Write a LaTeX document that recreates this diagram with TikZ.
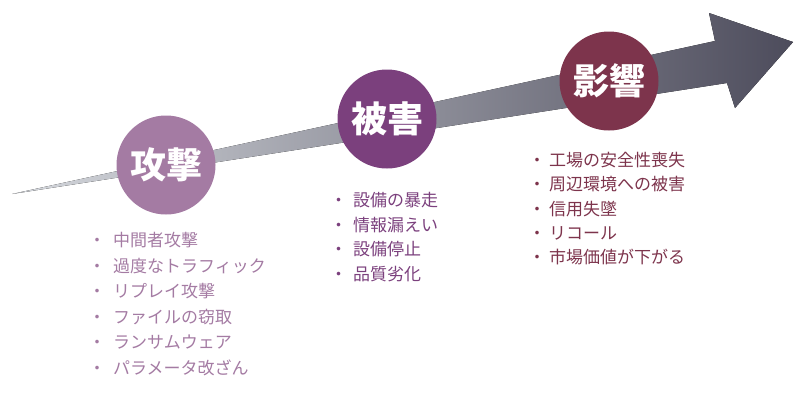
\documentclass[tikz,border=0pt]{standalone}
\usepackage{fontspec}
\newfontfamily\jp{Noto Sans CJK JP}
\definecolor{atkcol}{HTML}{A47BA3}
\definecolor{dmgcol}{HTML}{7B407D}
\definecolor{impcol}{HTML}{7D344C}
\definecolor{arrowlight}{HTML}{D5D8DD}
\definecolor{arrowdark}{HTML}{4D4C5C}

\begin{document}
\begin{tikzpicture}[x=1pt, y=-1pt,
    stage/.style = {circle, minimum size=99pt, inner sep=0pt, text=white,
      font=\jp\bfseries\fontsize{36}{36}\selectfont},
    item/.style = {anchor=west, inner sep=0pt,
      font=\jp\fontsize{17}{17}\selectfont}]
    \useasboundingbox (0,0) rectangle (800,400);

    % Arrow
    \fill[left color=arrowlight, right color=arrowdark]
      (12,194) -- (715,41) -- (709,13) -- (793,42) -- (735,108) -- (727,83) -- cycle;

    % Stages
    \node[stage, fill=atkcol] (attack) at (166,165) {攻撃};
    \node[stage, fill=dmgcol] (damage) at (387,119) {被害};
    \node[stage, fill=impcol] (impact) at (609,81) {影響};

    % Lists
    \foreach \t [count=\i from 0] in {中間者攻撃, 過度なトラフィック, リプレイ攻撃,
        ファイルの窃取, ランサムウェア, パラメータ改ざん}
      \node[item, text=atkcol] (atk\i) at (88.5, 240+25.6*\i) {\makebox[24.5pt][l]{・}\t};

    \foreach \t [count=\i from 0] in {設備の暴走, 情報漏えい, 設備停止, 品質劣化}
      \node[item, text=dmgcol] (dmg\i) at (330, 200+24.7*\i) {\makebox[23pt][l]{・}\t};

    \foreach \t [count=\i from 0] in {工場の安全性喪失, 周辺環境への被害, 信用失墜,
        リコール, 市場価値が下がる}
      \node[item, text=impcol] (imp\i) at (528.5, 160+24.3*\i) {\makebox[20.5pt][l]{・}\t};

\end{tikzpicture}
\end{document}
